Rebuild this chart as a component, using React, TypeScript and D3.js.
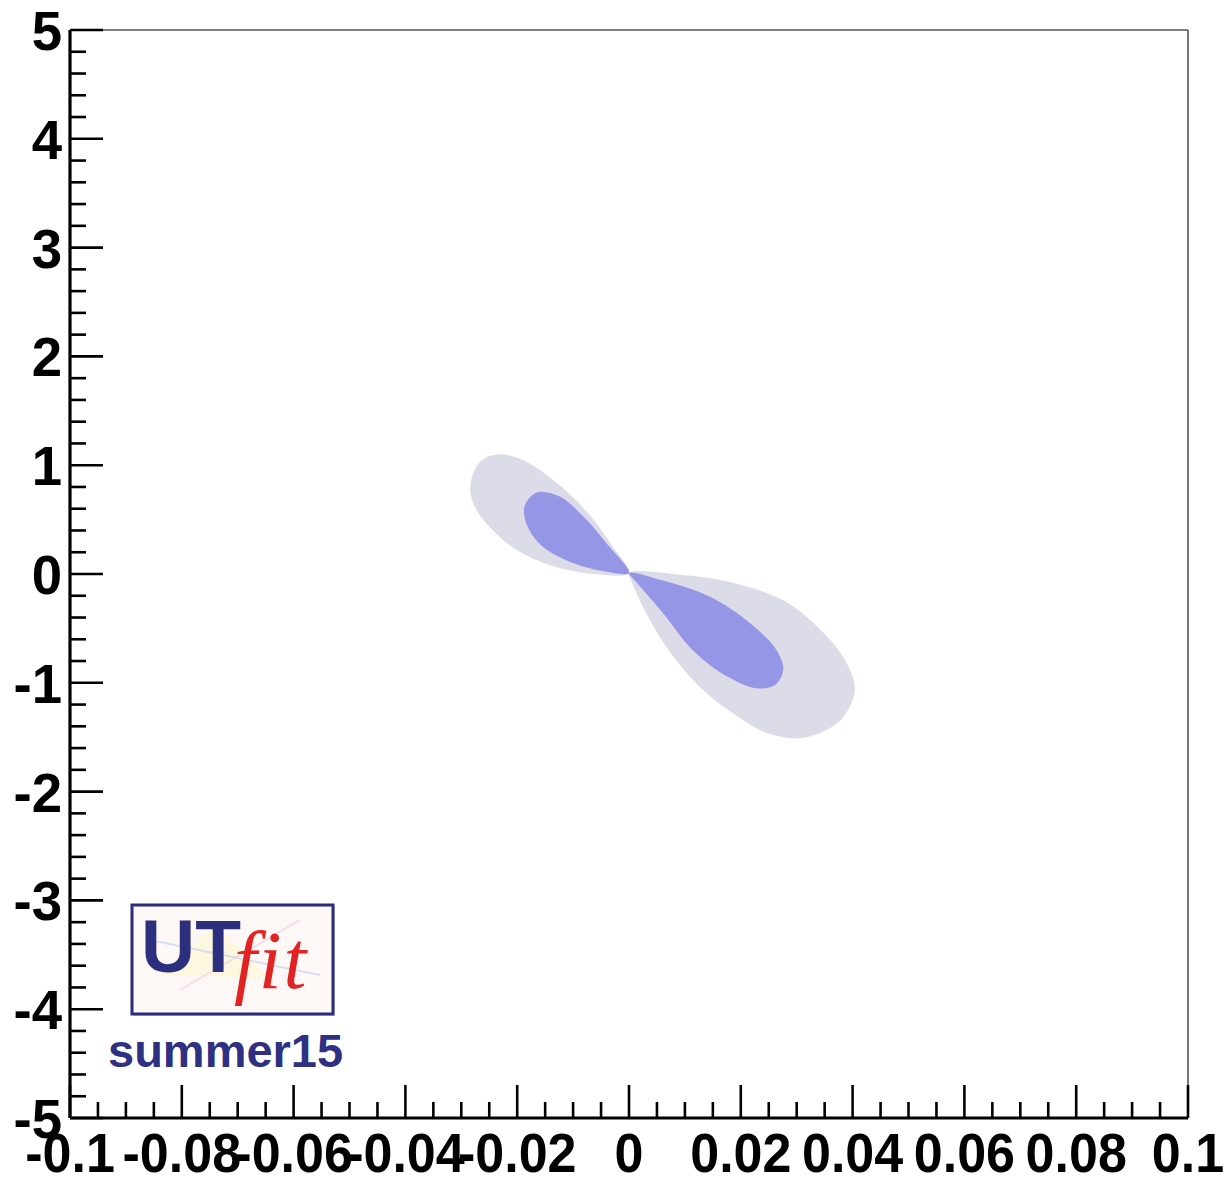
import * as d3 from 'd3';

// axis ranges
const xDomain: [number, number] = [-0.1, 0.1];
const yDomain: [number, number] = [-5, 5];

const xMajorTicks = [-0.1, -0.08, -0.06, -0.04, -0.02, 0, 0.02, 0.04, 0.06, 0.08, 0.1];
const xTickLabels = ['-0.1', '-0.08', '-0.06', '-0.04', '-0.02', '0', '0.02', '0.04', '0.06', '0.08', '0.1'];
const yMajorTicks = [-5, -4, -3, -2, -1, 0, 1, 2, 3, 4, 5];
const yTickLabels = ['-5', '-4', '-3', '-2', '-1', '0', '1', '2', '3', '4', '5'];

// contour lobes, [x, y] in data units (outer = 95%, inner = 68%)
const outerUpper: [number, number][] = [
  [0.0, 0.01], [-0.0029, 0.25], [-0.007, 0.54], [-0.0123, 0.81], [-0.0183, 1.03],
  [-0.0231, 1.1], [-0.0267, 1.03], [-0.0284, 0.8], [-0.0276, 0.62], [-0.0249, 0.43],
  [-0.0201, 0.22], [-0.0141, 0.08], [-0.0064, 0.0],
];
const outerLower: [number, number][] = [
  [0.0, 0.01], [0.0097, -0.01], [0.0186, -0.08], [0.0275, -0.24], [0.0336, -0.48],
  [0.0383, -0.76], [0.0404, -1.04], [0.0392, -1.25], [0.0365, -1.4], [0.0306, -1.51],
  [0.0246, -1.46], [0.0186, -1.28], [0.0127, -1.04], [0.0067, -0.67], [0.0025, -0.3],
  [0.0004, -0.06],
];
const innerUpper: [number, number][] = [
  [0.0, 0.01], [-0.004, 0.28], [-0.0082, 0.53], [-0.0123, 0.71], [-0.0165, 0.75],
  [-0.0187, 0.62], [-0.0181, 0.43], [-0.0154, 0.25], [-0.01, 0.1], [-0.004, 0.02],
];
const innerLower: [number, number][] = [
  [0.0, 0.01], [0.0061, -0.06], [0.0145, -0.21], [0.0216, -0.45], [0.0264, -0.7],
  [0.0276, -0.88], [0.0261, -1.02], [0.0228, -1.05], [0.0175, -0.94], [0.0114, -0.7],
  [0.0061, -0.36], [0.0014, -0.08],
];

const W = 1225;
const H = 1184;
const left = 70;
const right = 1188;
const top = 30;
const bottom = 1118;

const font = '"Liberation Sans", Arial, Helvetica, sans-serif';

export default function App() {
  const x = d3.scaleLinear().domain(xDomain).range([left, right]);
  const y = d3.scaleLinear().domain(yDomain).range([bottom, top]);

  const lobe = d3.line<[number, number]>()
    .x(d => x(d[0]))
    .y(d => y(d[1]))
    .curve(d3.curveCatmullRomClosed.alpha(0.5));

  const xMinor = d3.range(-0.1, 0.1001, 0.005).map(v => +v.toFixed(3));
  const yMinor = d3.range(-5, 5.001, 0.2).map(v => +v.toFixed(1));

  return (
    <svg width={W} height={H} style={{ position: 'absolute', left: 0, top: 0, background: 'white' }}>
      <rect width={W} height={H} fill="white" />

      {/* contours */}
      <g>
        <path d={lobe(outerUpper) || ''} fill="#dcdce8" />
        <path d={lobe(outerLower) || ''} fill="#dcdce8" />
        <path d={lobe(innerUpper) || ''} fill="#9696e6" />
        <path d={lobe(innerLower) || ''} fill="#9696e6" />
      </g>

      {/* frame */}
      <line x1={left} x2={right} y1={top} y2={top} stroke="#555" strokeWidth={1.6} />
      <line x1={right} x2={right} y1={top} y2={bottom} stroke="#555" strokeWidth={1.6} />

      {/* x ticks */}
      {xMinor.map((v, i) => {
        const major = i % 4 === 0;
        return (
          <line key={`xm${i}`} x1={x(v)} x2={x(v)} y1={bottom} y2={bottom - (major ? 33 : 16)}
            stroke="black" strokeWidth={2.6} />
        );
      })}
      {/* y ticks */}
      {yMinor.map((v, i) => {
        const major = i % 5 === 0;
        return (
          <line key={`ym${i}`} x1={left} x2={left + (major ? 33 : 16)} y1={y(v)} y2={y(v)}
            stroke="black" strokeWidth={2.6} />
        );
      })}

      <line x1={left} x2={right} y1={bottom} y2={bottom} stroke="black" strokeWidth={3.2} />
      <line x1={left} x2={left} y1={top} y2={bottom} stroke="black" strokeWidth={3.2} />

      {/* tick labels, slightly stretched vertically like the original */}
      {xMajorTicks.map((v, i) => (
        <text key={`xl${i}`} transform={`translate(${x(v)},1172) scale(1,1.07)`} textAnchor="middle"
          fontFamily={font} fontWeight="bold" fontSize={52} fill="black">{xTickLabels[i]}</text>
      ))}
      {yMajorTicks.map((v, i) => (
        <text key={`yl${i}`} transform={`translate(62,${y(v) + 20}) scale(1.05,1.07)`} textAnchor="end"
          fontFamily={font} fontWeight="bold" fontSize={52} fill="black">{yTickLabels[i]}</text>
      ))}

      {/* UTfit logo */}
      <g>
        <rect x={134} y={907} width={201} height={109} fill="#555" opacity={0.25} />
        <rect x={132} y={905} width={201} height={109} fill="#fdf7f5" stroke="#2b2d7c" strokeWidth={3} />
        <polygon points="160,975 215,925 270,978" fill="#fbf6d8" opacity={0.8} />
        <line x1={150} y1={940} x2={320} y2={975} stroke="#c8d4f0" strokeWidth={2} opacity={0.7} />
        <line x1={180} y1={990} x2={300} y2={920} stroke="#e8d0e8" strokeWidth={2} opacity={0.6} />
        <text x={141} y={972} fontFamily={font} fontWeight="bold" fontSize={75} fill="#2b2f7e">UT</text>
        <text x={234} y={988} fontFamily='"Liberation Serif", "Times New Roman", serif' fontStyle="italic"
          fontSize={82} fill="#e02424" letterSpacing={2}>fit</text>
      </g>
      <text x={108} y={1067} fontFamily={font} fontWeight="bold" fontSize={47} fill="#2e3181">summer15</text>
    </svg>
  );
}
